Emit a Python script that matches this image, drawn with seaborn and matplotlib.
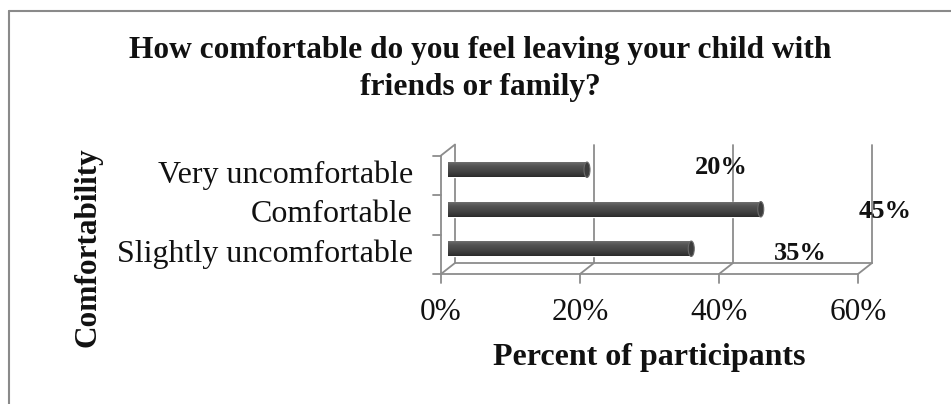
import matplotlib
matplotlib.use("Agg")
import numpy as np
import pandas as pd
import seaborn as sns
import matplotlib.pyplot as plt
from matplotlib.lines import Line2D
from matplotlib.patches import Ellipse
from matplotlib.colors import LinearSegmentedColormap

# ---- data ----
categories = ["Very uncomfortable", "Comfortable", "Slightly uncomfortable"]
percent = [20, 45, 35]
x_ticks = [0, 20, 40, 60]
title_text = "How comfortable do you feel leaving your child with\nfriends or family?"
x_title = "Percent of participants"
y_title = "Comfortability"

# value-label nudges (pixels) relative to each bar end
label_nudge = [(134, 2), (124, -2), (109, -5)]

sns.set_theme(style="white")
plt.rcParams["font.family"] = ["Liberation Serif", "DejaVu Serif"]

W, H, DPI = 951, 404, 100
fig = plt.figure(figsize=(W / DPI, H / DPI), dpi=DPI)
fig.patch.set_facecolor("white")


def fx(px):
    return px / W


def fy(py):
    return 1 - py / H


# plot area at mid-depth of the pseudo-3D box
L, R, T, B = 448, 865, 150, 268.5
ax = fig.add_axes([fx(L), fy(B), (R - L) / W, (B - T) / H])

df = pd.DataFrame({"Comfortability": categories, "Percent": percent})
sns.barplot(data=df, x="Percent", y="Comfortability", orient="h",
            color="#4a4a4a", saturation=1, width=0.39, ax=ax, zorder=3)

ax.set_xlim(0, 60)
ax.set_ylim(2.5, -0.5)
for s in ax.spines.values():
    s.set_visible(False)
ax.set_xlabel("")
ax.set_ylabel("")
ax.set_xticks([])
ax.set_yticks([])
ax.patch.set_alpha(0)

# pixel size of one data unit
p0 = ax.transData.transform((0, 0))
p1 = ax.transData.transform((1, 1))
pxx = p1[0] - p0[0]
pxy = p0[1] - p1[1]  # positive because y is inverted

DX, DY = 7.0, 5.5  # half depth of the box in pixels


def depth(x, y, s):
    """Shift a data point toward the back (s=+1) or front (s=-1)."""
    return x + s * DX / pxx, y - s * DY / pxy


grid_col = "#8c8c8c"
lw = 1.3


def seg(p, q, **kw):
    ax.add_line(Line2D([p[0], q[0]], [p[1], q[1]], color=grid_col, lw=lw,
                       clip_on=False, zorder=1, **kw))


ymin, ymax = -0.5, 2.5
# back wall gridlines and back floor edge
for t in x_ticks:
    seg(depth(t, ymin, 1), depth(t, ymax, 1))
seg(depth(0, ymax, 1), depth(60, ymax, 1))
# floor diagonals
for t in x_ticks:
    seg(depth(t, ymax, 1), depth(t, ymax, -1))
# front floor edge and front-left axis
seg(depth(0, ymax, -1), depth(60, ymax, -1))
seg(depth(0, ymin, -1), depth(0, ymax, -1))
seg(depth(0, ymin, -1), depth(0, ymin, 1))

# tick marks on the front axes
for b in [-0.5, 0.5, 1.5, 2.5]:
    fx0, fy0 = depth(0, b, -1)
    seg((fx0, fy0), (fx0 - 8 / pxx, fy0))
for t in x_ticks:
    fx0, fy0 = depth(t, ymax, -1)
    seg((fx0, fy0), (fx0, fy0 + 9 / pxy))

# cylinder shading on the bars
cyl = LinearSegmentedColormap.from_list(
    "cyl", ["#7a7a7a", "#606060", "#525252", "#4a4a4a", "#424242", "#383838", "#2a2a2a"])
grad = np.linspace(0, 1, 64).reshape(-1, 1)
for patch, v in zip(list(ax.patches), percent):
    x0, y0, w, h = patch.get_x(), patch.get_y(), patch.get_width(), patch.get_height()
    im = ax.imshow(grad, cmap=cyl, aspect="auto", interpolation="bicubic",
                   extent=[x0, x0 + w, y0 + h, y0], zorder=4)
    im.set_clip_path(patch)
    yc = y0 + h / 2
    ax.add_patch(Ellipse((x0 + w, yc), width=6 / pxx, height=h,
                         facecolor="#3c3c3c", edgecolor="#6a6a6a", lw=0.8, zorder=5))

ax.set_xlim(0, 60)
ax.set_ylim(2.5, -0.5)

# value labels
for i, (v, (dx, dy)) in enumerate(zip(percent, label_nudge)):
    ax.annotate(f"{v}%", xy=(v, i), xytext=(dx, dy), textcoords="offset pixels",
                ha="center", va="center", fontsize=19, fontweight="bold",
                color="#111111", annotation_clip=False, zorder=6)

# category labels on the front axis
for i, c in enumerate(categories):
    px_, py_ = depth(0, i, -1)
    ax.annotate(c, xy=(px_, py_), xytext=(-28, 0), textcoords="offset pixels",
                ha="right", va="center", fontsize=23, color="#111111",
                annotation_clip=False)

# percent tick labels on the front floor
for t in x_ticks:
    px_, py_ = depth(t, ymax, -1)
    ax.annotate(f"{t}%", xy=(px_, py_), xytext=(0, -38), textcoords="offset pixels",
                ha="center", va="center", fontsize=22.5, color="#111111",
                annotation_clip=False)

# titles
fig.text(fx(480), fy(69), title_text, ha="center", va="center", fontsize=22.6,
         fontweight="bold", linespacing=1.4, color="#111111")
fig.text(fx(649), fy(358), x_title, ha="center", va="center", fontsize=23,
         fontweight="bold", color="#111111")
fig.text(fx(88), fy(247), y_title, ha="center", va="center", fontsize=22.5,
         fontweight="bold", rotation=90, color="#111111")

# chart-area border (top and left edges)
fig.add_artist(Line2D([fx(9), 1], [fy(11), fy(11)], transform=fig.transFigure,
                      color="#8a8a8a", lw=1.5))
fig.add_artist(Line2D([fx(9), fx(9)], [fy(11), 0], transform=fig.transFigure,
                      color="#8a8a8a", lw=1.5))

fig.savefig("out.png", dpi=DPI, facecolor="white")
